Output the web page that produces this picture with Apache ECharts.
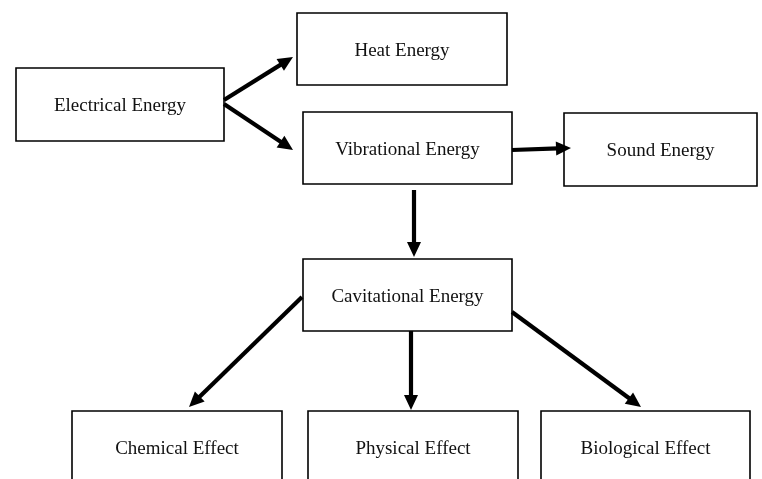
<!DOCTYPE html>
<html>
<head>
<meta charset="utf-8">
<script src="https://cdn.jsdelivr.net/npm/echarts@6/dist/echarts.min.js"></script>
<style>html,body{margin:0;padding:0;background:#fff}#c{width:762px;height:479px}</style>
</head>
<body>
<div id="c"></div>
<script>
// Diagram nodes (in diagram units, matching a 762 x 479 plane)
var nodeLabels = ['Electrical Energy','Heat Energy','Vibrational Energy','Sound Energy','Cavitational Energy','Chemical Effect','Physical Effect','Biological Effect'];
var nodeX0 = [16, 297, 303, 564, 303, 72, 308, 541];
var nodeY0 = [68, 13, 112, 113, 259, 411, 411, 411];
var nodeX1 = [224, 507, 512, 757, 512, 282, 518, 750];
var nodeY1 = [141, 85, 184, 186, 331, 484, 484, 484];
// Arrows: start and tip points
var arrowX0 = [224, 224, 512, 414, 302, 411, 512];
var arrowY0 = [100, 104, 150, 190, 297, 331, 312];
var arrowX1 = [293, 293, 571, 414, 189, 411, 641];
var arrowY1 = [57, 150, 148, 257, 407, 410, 407];

var boxData = nodeLabels.map(function(n,i){return [nodeX0[i],nodeY0[i],nodeX1[i],nodeY1[i],i];});
var arrowData = arrowX0.map(function(x,i){return [x,arrowY0[i],arrowX1[i],arrowY1[i]];});

var chart = echarts.init(document.getElementById('c'), null, {renderer:'canvas'});
chart.setOption({
  animation:false,
  backgroundColor:'#ffffff',
  grid:{left:0,right:0,top:0,bottom:0},
  xAxis:{type:'value',min:0,max:762,show:false},
  yAxis:{type:'value',min:0,max:479,inverse:true,show:false},
  series:[
    {
      type:'custom', clip:false, data:boxData,
      renderItem:function(params, api){
        var p0 = api.coord([api.value(0), api.value(1)]);
        var p1 = api.coord([api.value(2), api.value(3)]);
        var label = nodeLabels[api.value(4)];
        var x = Math.min(p0[0],p1[0]), y = Math.min(p0[1],p1[1]);
        var w = Math.abs(p1[0]-p0[0]), h = Math.abs(p1[1]-p0[1]);
        return {type:'group', children:[
          {type:'rect', shape:{x:x,y:y,width:w,height:h},
           style:{fill:'#ffffff',stroke:'#000000',lineWidth:1.6}},
          {type:'text', style:{text:label, x:x+w/2, y:y+h/2+2, align:'center', verticalAlign:'middle',
           font:'19px "Liberation Serif", "Times New Roman", serif', fill:'#111111'}}
        ]};
      }
    },
    {
      type:'custom', clip:false, data:arrowData,
      renderItem:function(params, api){
        var s = api.coord([api.value(0), api.value(1)]);
        var e = api.coord([api.value(2), api.value(3)]);
        var dx = e[0]-s[0], dy = e[1]-s[1];
        var len = Math.sqrt(dx*dx+dy*dy);
        var ux = dx/len, uy = dy/len;
        var L = 15, W = 7;
        var bx = e[0]-ux*L, by = e[1]-uy*L;
        var nx = -uy, ny = ux;
        return {type:'group', children:[
          {type:'line', shape:{x1:s[0],y1:s[1],x2:bx+ux*2,y2:by+uy*2},
           style:{stroke:'#000000',lineWidth:4.2}},
          {type:'polygon', shape:{points:[[e[0],e[1]],[bx+nx*W,by+ny*W],[bx-nx*W,by-ny*W]]},
           style:{fill:'#000000'}}
        ]};
      }
    }
  ]
});
</script>
</body>
</html>
